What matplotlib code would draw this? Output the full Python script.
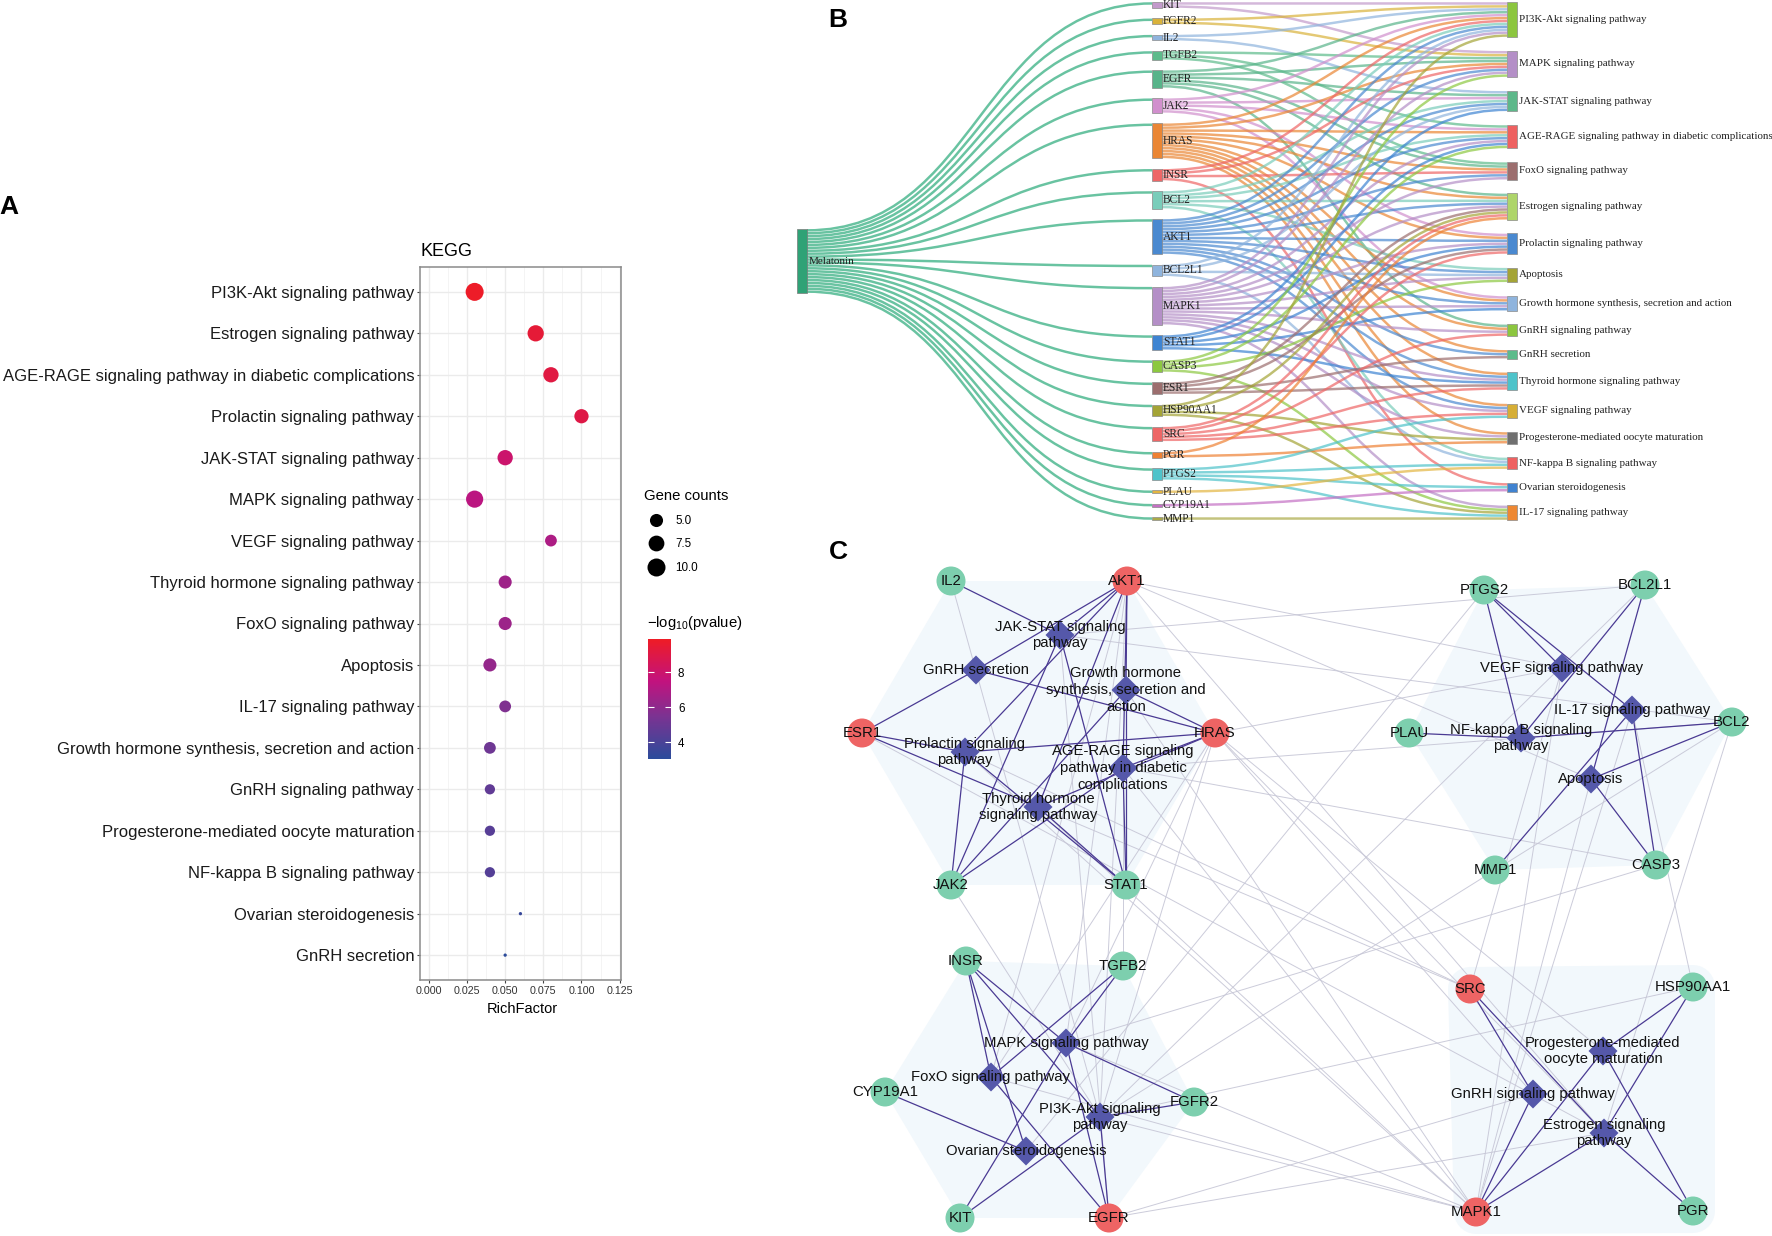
import numpy as np
import matplotlib
matplotlib.use('Agg')
import matplotlib.pyplot as plt
from matplotlib.path import Path
from matplotlib.patches import PathPatch, Rectangle, Circle, Polygon
from matplotlib.collections import LineCollection
from matplotlib.colors import LinearSegmentedColormap, Normalize
from matplotlib.lines import Line2D
import matplotlib.cm as cm

plt.rcParams['font.family'] = ['Liberation Sans', 'DejaVu Sans']
plt.rcParams['mathtext.fontset'] = 'custom'
plt.rcParams['mathtext.rm'] = 'Liberation Sans'

W, H = 1772, 1236
PT = 0.72  # points per pixel at dpi 100

# ---------------- panel A : KEGG dot plot ----------------
kegg_terms = ['PI3K-Akt signaling pathway', 'Estrogen signaling pathway',
              'AGE-RAGE signaling pathway in diabetic complications',
              'Prolactin signaling pathway', 'JAK-STAT signaling pathway',
              'MAPK signaling pathway', 'VEGF signaling pathway',
              'Thyroid hormone signaling pathway', 'FoxO signaling pathway',
              'Apoptosis', 'IL-17 signaling pathway',
              'Growth hormone synthesis, secretion and action',
              'GnRH signaling pathway', 'Progesterone-mediated oocyte maturation',
              'NF-kappa B signaling pathway', 'Ovarian steroidogenesis',
              'GnRH secretion']
rich_factor = [0.030, 0.070, 0.080, 0.100, 0.050, 0.030, 0.080, 0.050, 0.050,
               0.040, 0.050, 0.040, 0.040, 0.040, 0.040, 0.060, 0.050]
gene_counts = [10, 8, 7, 6, 7, 9, 4, 5, 5, 5, 4, 4, 3, 3, 3, 1, 1]
neg_log_p = [9.8, 9.4, 9.1, 9.0, 8.0, 7.3, 6.9, 6.5, 6.4, 6.2, 5.6, 5.1, 4.7,
             4.4, 4.3, 3.4, 3.1]
size_breaks = [5.0, 7.5, 10.0]
x_ticks = [0.000, 0.025, 0.050, 0.075, 0.100, 0.125]

# ---------------- panel B : sankey ----------------
genes = ['KIT', 'FGFR2', 'IL2', 'TGFB2', 'EGFR', 'JAK2', 'HRAS', 'INSR', 'BCL2',
         'AKT1', 'BCL2L1', 'MAPK1', 'STAT1', 'CASP3', 'ESR1', 'HSP90AA1', 'SRC',
         'PGR', 'PTGS2', 'PLAU', 'CYP19A1', 'MMP1']
gene_colors = ['#C29ACB', '#D9B23A', '#8FB4DD', '#5DBB8B', '#58B48A', '#D18FCD',
               '#EA8634', '#EE6666', '#79CDBA', '#4A89D0', '#8FB4DD', '#B48FC7',
               '#3D84D2', '#8CC840', '#9C6E6E', '#A4A436', '#EE6666', '#EE8133',
               '#4EC3CA', '#E3B540', '#C46FC4', '#ABAA48']
pathway_keys = ['PI3K', 'MAPK', 'JAK', 'AGE', 'FOXO', 'ESTR', 'PRL', 'APOP', 'GH',
                'GNRH', 'GNRHS', 'THYR', 'VEGF', 'PROG', 'NFKB', 'OVAR', 'IL17']
pathways = ['PI3K-Akt signaling pathway', 'MAPK signaling pathway',
            'JAK-STAT signaling pathway',
            'AGE-RAGE signaling pathway in diabetic complications',
            'FoxO signaling pathway', 'Estrogen signaling pathway',
            'Prolactin signaling pathway', 'Apoptosis',
            'Growth hormone synthesis, secretion and action',
            'GnRH signaling pathway', 'GnRH secretion',
            'Thyroid hormone signaling pathway', 'VEGF signaling pathway',
            'Progesterone-mediated oocyte maturation',
            'NF-kappa B signaling pathway', 'Ovarian steroidogenesis',
            'IL-17 signaling pathway']
pathway_colors = ['#8CC63F', '#B48FC7', '#5DB88A', '#EE6161', '#9C6E6E', '#AED56A',
                  '#4A89D0', '#A4A436', '#8FB4DD', '#8CC63F', '#5DBB8B', '#4EC3CA',
                  '#D6AE36', '#707070', '#EE6161', '#4082D0', '#EE8833']
gene_pathways = {
    'KIT': ['PI3K', 'MAPK'],
    'FGFR2': ['PI3K', 'MAPK'],
    'IL2': ['PI3K', 'JAK'],
    'TGFB2': ['MAPK', 'AGE', 'FOXO'],
    'EGFR': ['PI3K', 'MAPK', 'JAK', 'FOXO', 'ESTR', 'GNRH'],
    'JAK2': ['PI3K', 'JAK', 'AGE', 'PRL', 'GH'],
    'HRAS': ['PI3K', 'MAPK', 'AGE', 'FOXO', 'ESTR', 'PRL', 'GH', 'GNRH', 'GNRHS',
             'THYR', 'VEGF', 'PROG'],
    'INSR': ['PI3K', 'MAPK', 'FOXO', 'OVAR'],
    'BCL2': ['PI3K', 'JAK', 'AGE', 'ESTR', 'APOP', 'NFKB'],
    'AKT1': ['PI3K', 'MAPK', 'JAK', 'AGE', 'FOXO', 'ESTR', 'PRL', 'APOP', 'GH',
             'GNRHS', 'THYR', 'VEGF'],
    'BCL2L1': ['PI3K', 'JAK', 'APOP', 'NFKB'],
    'MAPK1': ['PI3K', 'MAPK', 'AGE', 'FOXO', 'ESTR', 'PRL', 'APOP', 'GH', 'GNRH',
              'THYR', 'VEGF', 'PROG', 'IL17'],
    'STAT1': ['JAK', 'AGE', 'PRL', 'GH', 'THYR'],
    'CASP3': ['MAPK', 'AGE', 'APOP', 'IL17'],
    'ESR1': ['ESTR', 'PRL', 'GNRHS', 'THYR'],
    'HSP90AA1': ['PI3K', 'ESTR', 'PROG', 'IL17'],
    'SRC': ['ESTR', 'PRL', 'GNRH', 'THYR', 'VEGF'],
    'PGR': ['ESTR', 'PROG'],
    'PTGS2': ['VEGF', 'NFKB', 'OVAR', 'IL17'],
    'PLAU': ['NFKB'],
    'CYP19A1': ['OVAR'],
    'MMP1': ['IL17'],
}

# ---------------- panel C : network ----------------
gene_xy = {
    'IL2': (951, 581), 'AKT1': (1127, 581), 'ESR1': (862, 733), 'HRAS': (1215, 733),
    'JAK2': (951, 885), 'STAT1': (1126, 885),
    'PTGS2': (1484, 590), 'BCL2L1': (1645, 585), 'PLAU': (1409, 733),
    'BCL2': (1732, 722), 'MMP1': (1495, 870), 'CASP3': (1656, 865),
    'INSR': (966, 961), 'TGFB2': (1123, 966), 'CYP19A1': (885, 1092),
    'FGFR2': (1194, 1102), 'KIT': (960, 1218), 'EGFR': (1109, 1218),
    'SRC': (1470, 989), 'HSP90AA1': (1693, 987), 'MAPK1': (1476, 1212),
    'PGR': (1693, 1211),
}
pathway_xy = {
    'JAK': (1060, 635), 'GNRHS': (976, 670), 'GH': (1126, 690), 'PRL': (965, 752),
    'AGE': (1123, 768), 'THYR': (1038, 807),
    'VEGF': (1562, 668), 'IL17': (1632, 710), 'NFKB': (1521, 738), 'APOP': (1591, 779),
    'MAPK': (1066, 1043), 'FOXO': (991, 1077), 'PI3K': (1100, 1117), 'OVAR': (1026, 1151),
    'PROG': (1603, 1051), 'GNRH': (1533, 1094), 'ESTR': (1604, 1133),
}
network_labels = {
    'JAK': 'JAK-STAT signaling\npathway', 'GNRHS': 'GnRH secretion',
    'GH': 'Growth hormone\nsynthesis, secretion and\naction',
    'PRL': 'Prolactin signaling\npathway',
    'AGE': 'AGE-RAGE signaling\npathway in diabetic\ncomplications',
    'THYR': 'Thyroid hormone\nsignaling pathway',
    'VEGF': 'VEGF signaling pathway', 'IL17': 'IL-17 signaling pathway',
    'NFKB': 'NF-kappa B signaling\npathway', 'APOP': 'Apoptosis',
    'MAPK': 'MAPK signaling pathway', 'FOXO': 'FoxO signaling pathway',
    'PI3K': 'PI3K-Akt signaling\npathway', 'OVAR': 'Ovarian steroidogenesis',
    'PROG': 'Progesterone-mediated\noocyte maturation',
    'GNRH': 'GnRH signaling pathway', 'ESTR': 'Estrogen signaling\npathway',
}
cluster_genes = [['IL2', 'AKT1', 'HRAS', 'STAT1', 'JAK2', 'ESR1'],
                 ['PTGS2', 'BCL2L1', 'BCL2', 'CASP3', 'MMP1', 'PLAU'],
                 ['INSR', 'TGFB2', 'FGFR2', 'EGFR', 'KIT', 'CYP19A1'],
                 ['SRC', 'HSP90AA1', 'PGR', 'MAPK1']]
cluster_pathways = [['JAK', 'GNRHS', 'GH', 'PRL', 'AGE', 'THYR'],
                    ['VEGF', 'IL17', 'NFKB', 'APOP'],
                    ['MAPK', 'FOXO', 'PI3K', 'OVAR'],
                    ['PROG', 'GNRH', 'ESTR']]
cluster_pad = [0, 0, 0, 22]
hub_genes = ['AKT1', 'ESR1', 'HRAS', 'EGFR', 'SRC', 'MAPK1']


fig = plt.figure(figsize=(W / 100, H / 100), dpi=100)
ax = fig.add_axes([0, 0, 1, 1])
ax.set_xlim(0, W)
ax.set_ylim(H, 0)
ax.axis('off')

# panel letters
for letter, (lx, ly) in zip('ABC', [(9, 207), (838, 20), (838, 552)]):
    ax.text(lx, ly, letter, fontsize=19, fontweight='bold', ha='center', va='center')

# ======== A ========
cmap = LinearSegmentedColormap.from_list(
    'kegg', [(0, '#2B4C9B'), (0.35, '#7A3392'), (0.65, '#C2127E'), (1, '#EE1C25')])
norm = Normalize(vmin=3.05, vmax=9.9)
cmin, cmax = min(gene_counts), max(gene_counts)


def dot_px(c):
    return 3.3 + 14.7 * np.sqrt(max(c - cmin, 0) / (cmax - cmin))


axa = fig.add_axes([420 / W, 1 - 980 / H, 201 / W, 713 / H])
ypos = np.arange(1, len(kegg_terms) + 1)
axa.scatter(rich_factor, ypos, s=[(dot_px(c) * PT) ** 2 for c in gene_counts],
            c=neg_log_p, cmap=cmap, norm=norm, edgecolors='none', zorder=3)
axa.set_yticks(ypos)
axa.set_yticklabels(kegg_terms, fontsize=12, color='#1a1a1a')
axa.set_xticks(x_ticks)
axa.set_xticklabels(['%.3f' % t for t in x_ticks], fontsize=7.7, color='#333333')
axa.set_xticks(np.arange(0.0125, 0.125, 0.025), minor=True)
axa.set_xlim(-0.0058, 0.1259)
axa.set_ylim(len(kegg_terms) + 0.6, 0.4)
axa.grid(True, which='major', color='#EBEBEB', lw=1.0)
axa.grid(True, which='minor', axis='x', color='#F3F3F3', lw=0.6)
axa.tick_params(which='major', length=3 * PT, width=0.8, color='#444444', pad=2)
axa.tick_params(which='minor', length=0)
axa.set_axisbelow(True)
for sp in axa.spines.values():
    sp.set_color('#8A8A8A')
    sp.set_linewidth(1.1)
axa.text(0.0, 1 + 11 / 713, 'KEGG', transform=axa.transAxes, fontsize=13,
         ha='left', va='baseline')
fig.text(522 / W, 1 - 1013 / H, 'RichFactor', fontsize=10.5, ha='center', va='baseline')

handles = [Line2D([], [], ls='none', marker='o', color='black', markeredgewidth=0,
                  markersize=dot_px(b) * PT) for b in size_breaks]
axa.legend(handles, ['%.1f' % b for b in size_breaks], title='Gene counts',
           loc='upper left', bbox_to_anchor=(644 / W, 1 - 489 / H),
           bbox_transform=fig.transFigure, frameon=False, fontsize=8.4,
           title_fontsize=10.7, handlelength=2.0, handletextpad=0.7,
           labelspacing=1.0, borderpad=0, borderaxespad=0, alignment='left')

fig.text(647 / W, 1 - 623 / H, r'$\mathregular{-log_{10}}$(pvalue)', fontsize=10.7,
         ha='left', va='center')
cax = fig.add_axes([648 / W, 1 - 759 / H, 23 / W, 120 / H])
cb = fig.colorbar(cm.ScalarMappable(norm=norm, cmap=cmap), cax=cax, ticks=[4, 6, 8])
cb.outline.set_visible(False)
cax.tick_params(direction='in', color='white', length=4, width=0.8, left=True,
                right=True, labelsize=8.4, pad=5)

# ======== B : sankey ========
unit = 2.92
col_top, col_bot = 2, 520
x_mel, x_gene, x_path, node_w = 797, 1152, 1507, 10
link_lw = unit * 0.85 * PT


def stack(counts):
    pad = (col_bot - col_top - sum(counts) * unit) / (len(counts) - 1)
    tops, y = [], col_top
    for c in counts:
        tops.append(y)
        y += c * unit + pad
    return tops


def ribbon(x0, y0, x1, y1, color, alpha, z):
    xm = (x0 + x1) / 2
    p = Path([(x0, y0), (xm, y0), (xm, y1), (x1, y1)],
             [Path.MOVETO, Path.CURVE4, Path.CURVE4, Path.CURVE4])
    ax.add_patch(PathPatch(p, fill=False, edgecolor=color, alpha=alpha, lw=link_lw,
                           capstyle='butt', zorder=z))


gene_n = [len(gene_pathways[g]) for g in genes]
path_n = [sum(k in gene_pathways[g] for g in genes) for k in pathway_keys]
gene_top = stack(gene_n)
path_top = stack(path_n)
mel_h = len(genes) * unit
mel_top = (col_top + col_bot) / 2 - mel_h / 2

# melatonin -> genes
for i, g in enumerate(genes):
    ribbon(x_mel + node_w, mel_top + (i + 0.5) * unit, x_gene, gene_top[i] + 0.5 * unit,
           '#44B48A', 0.8, 2)

# genes -> pathways
path_slot = [0] * len(pathway_keys)
links = []
for i, g in enumerate(genes):
    for k in sorted(gene_pathways[g], key=pathway_keys.index):
        links.append((i, pathway_keys.index(k)))
out_slot = [0] * len(genes)
for i, j in links:
    y0 = gene_top[i] + (out_slot[i] + 0.5) * unit
    y1 = path_top[j] + (path_slot[j] + 0.5) * unit
    out_slot[i] += 1
    path_slot[j] += 1
    ribbon(x_gene + node_w, y0, x_path, y1, gene_colors[i], 0.7, 2)

ax.add_patch(Rectangle((x_mel, mel_top), node_w, mel_h, facecolor='#2FA276',
                       edgecolor='#7a7a7a', lw=0.5, zorder=4))
ax.text(x_mel + node_w + 2, mel_top + mel_h / 2, 'Melatonin', fontsize=8,
        family='Liberation Serif', va='center', ha='left', color='#222222', zorder=5)
for i, g in enumerate(genes):
    h = gene_n[i] * unit
    ax.add_patch(Rectangle((x_gene, gene_top[i]), node_w, h, facecolor=gene_colors[i],
                           edgecolor='#8a8a8a', lw=0.5, zorder=4))
    ax.text(x_gene + node_w + 1, gene_top[i] + h / 2, g, fontsize=8.3,
            family='Liberation Serif', va='center', ha='left', color='#222222', zorder=5)
for j, name in enumerate(pathways):
    h = path_n[j] * unit
    ax.add_patch(Rectangle((x_path, path_top[j]), node_w, h, facecolor=pathway_colors[j],
                           edgecolor='#8a8a8a', lw=0.5, zorder=4))
    ax.text(x_path + node_w + 2, path_top[j] + h / 2, name, fontsize=7.9,
            family='Liberation Serif', va='center', ha='left', color='#222222', zorder=5)

# ======== C : network ========
gene_cluster = {g: ci for ci, gl in enumerate(cluster_genes) for g in gl}
path_cluster = {p: ci for ci, pl in enumerate(cluster_pathways) for p in pl}

for ci, gl in enumerate(cluster_genes):
    pts = [gene_xy[g] for g in gl]
    ax.add_patch(Polygon(pts, closed=True, facecolor='#F2F8FC', edgecolor='#F2F8FC',
                         lw=2 * cluster_pad[ci] * PT, joinstyle='round', zorder=1))

grey, purple = [], []
for g in genes:
    for k in gene_pathways[g]:
        seg = [gene_xy[g], pathway_xy[k]]
        if gene_cluster[g] == path_cluster[k]:
            purple.append(seg)
        else:
            grey.append(seg)
ax.add_collection(LineCollection(grey, colors='#C6C6D6', linewidths=0.7, alpha=0.9,
                                 zorder=2))
ax.add_collection(LineCollection(purple, colors='#4A3A93', linewidths=0.9, zorder=3))

r_node = 14.5
for k, (px, py) in pathway_xy.items():
    ax.add_patch(Polygon([(px, py - r_node), (px + r_node, py), (px, py + r_node),
                          (px - r_node, py)], closed=True, facecolor='#5558AA',
                         edgecolor='none', zorder=4))
    ax.text(px, py, network_labels[k], fontsize=10.7, ha='center', va='center',
            linespacing=1.25, color='#111111', zorder=6)
for g, (gx, gy) in gene_xy.items():
    ax.add_patch(Circle((gx, gy), r_node, facecolor='#EE6464' if g in hub_genes else '#7DCFAE',
                        edgecolor='none', zorder=4))
    ax.text(gx, gy, g, fontsize=10.8, ha='center', va='center', color='#111111', zorder=6)

fig.savefig('out.png', dpi=100)
